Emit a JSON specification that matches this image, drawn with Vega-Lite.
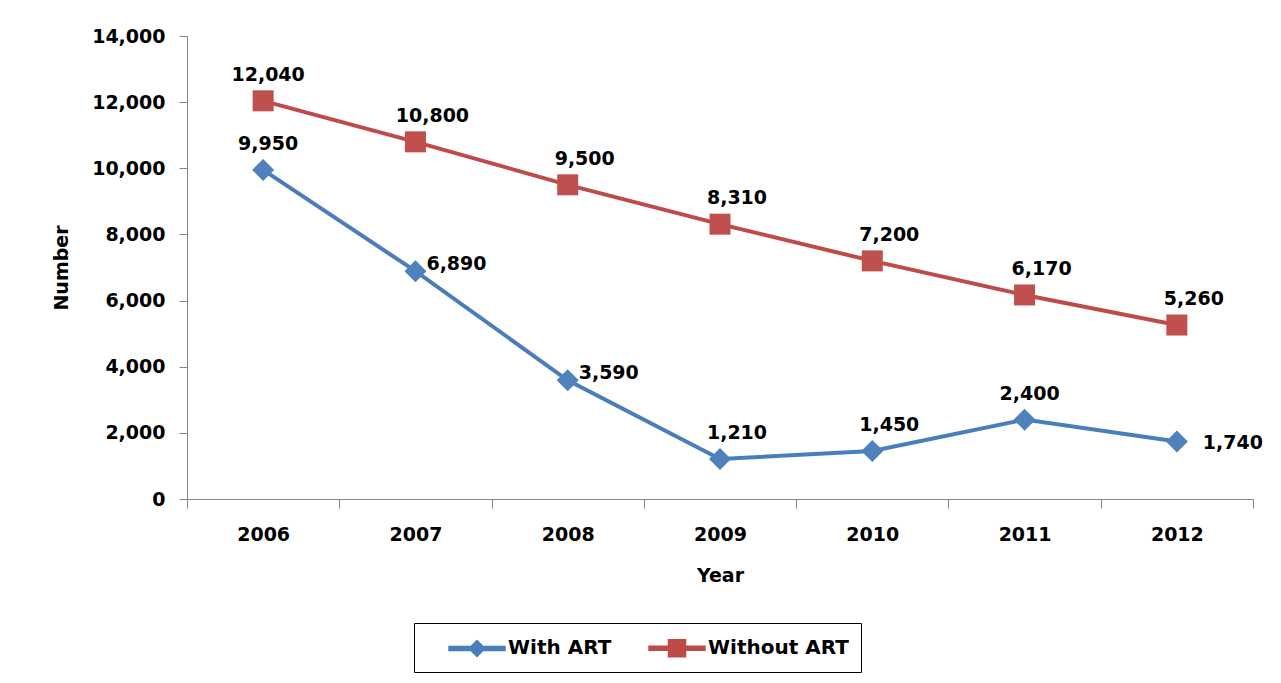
{
  "$schema": "https://vega.github.io/schema/vega-lite/v6.json",
  "width": 1066,
  "height": 463,
  "autosize": {"type": "none"},
  "padding": {"left": 187, "top": 36, "right": 28, "bottom": 184},
  "background": "white",
  "config": {
    "view": {"stroke": null},
    "font": "DejaVu Sans",
    "axis": {"grid": false, "domainColor": "#868686", "tickColor": "#868686", "labelColor": "#000", "titleColor": "#000", "labelFont": "DejaVu Sans", "titleFont": "DejaVu Sans", "labelFontWeight": "bold", "titleFontWeight": "bold", "labelFontSize": 19, "titleFontSize": 19}
  },
  "data": {
    "values": [
      {"year": 2006, "series": "With ART", "value": 9950},
      {"year": 2007, "series": "With ART", "value": 6890},
      {"year": 2008, "series": "With ART", "value": 3590},
      {"year": 2009, "series": "With ART", "value": 1210},
      {"year": 2010, "series": "With ART", "value": 1450},
      {"year": 2011, "series": "With ART", "value": 2400},
      {"year": 2012, "series": "With ART", "value": 1740},
      {"year": 2006, "series": "Without ART", "value": 12040},
      {"year": 2007, "series": "Without ART", "value": 10800},
      {"year": 2008, "series": "Without ART", "value": 9500},
      {"year": 2009, "series": "Without ART", "value": 8310},
      {"year": 2010, "series": "Without ART", "value": 7200},
      {"year": 2011, "series": "Without ART", "value": 6170},
      {"year": 2012, "series": "Without ART", "value": 5260}
    ]
  },
  "encoding": {
    "x": {
      "field": "year", "type": "ordinal",
      "scale": {"type": "band", "paddingInner": 0, "paddingOuter": 0},
      "axis": {
        "title": "Year",
        "labelAngle": 0,
        "tickBand": "extent",
        "tickSize": 9,
        "labelPadding": 17,
        "titlePadding": 22
      }
    },
    "y": {
      "field": "value", "type": "quantitative",
      "scale": {"domain": [0, 14000], "nice": false},
      "axis": {
        "title": "Number",
        "values": [0, 2000, 4000, 6000, 8000, 10000, 12000, 14000],
        "format": ",.0f",
        "tickSize": 8,
        "labelPadding": 14,
        "titlePadding": 20
      }
    }
  },
  "layer": [
    {
      "mark": {"type": "line", "strokeWidth": 4},
      "encoding": {
        "color": {
          "field": "series", "type": "nominal",
          "scale": {"domain": ["With ART", "Without ART"], "range": ["#4A7EBB", "#BE4B48"]},
          "legend": {
            "title": null,
            "orient": "none",
            "legendX": 227,
            "legendY": 587,
            "direction": "horizontal",
            "strokeColor": "#000",
            "padding": 12,
            "columnPadding": 14,
            "symbolSize": 576,
            "symbolOffset": 38,
            "labelOffset": 18,
            "labelFont": "DejaVu Sans",
            "labelFontSize": 20,
            "labelFontWeight": "bold",
            "labelColor": "#000",
            "encode": {
              "symbols": {
                "update": {
                  "shape": {"signal": "datum.value == 'With ART' ? 'M-2.33,-0.17L-0.5,-0.17L0,-0.67L0.5,-0.17L2.33,-0.17L2.33,0.17L0.5,0.17L0,0.67L-0.5,0.17L-2.33,0.17Z' : 'M-2.33,-0.17L-0.71,-0.17L-0.71,-0.71L0.71,-0.71L0.71,-0.17L2.33,-0.17L2.33,0.17L0.71,0.17L0.71,0.71L-0.71,0.71L-0.71,0.17L-2.33,0.17Z'"},
                  "fill": {"signal": "datum.value == 'With ART' ? '#4A7EBB' : '#BE4B48'"},
                  "stroke": {"value": "transparent"}
                }
              }
            }
          }
        }
      }
    },
    {
      "transform": [{"filter": "datum.series == 'With ART'"}],
      "mark": {"type": "point", "filled": true, "shape": "diamond", "size": 484, "color": "#4F81BD"},
      "encoding": {"opacity": {"value": 1}}
    },
    {
      "transform": [{"filter": "datum.series == 'Without ART'"}],
      "mark": {"type": "point", "filled": true, "shape": "square", "size": 441, "color": "#C0504D"},
      "encoding": {"opacity": {"value": 1}}
    },
    {
      "transform": [{"filter": "datum.year == 2006 || (datum.series == 'With ART' && datum.year == 2011)"}],
      "mark": {"type": "text", "dx": 5, "dy": -26, "align": "center", "baseline": "middle", "fontSize": 19, "fontWeight": "bold", "font": "DejaVu Sans", "color": "#000"},
      "encoding": {"text": {"field": "value", "type": "quantitative", "format": ","}}
    },
    {
      "transform": [{"filter": "(datum.series == 'Without ART' && datum.year > 2006) || (datum.series == 'With ART' && (datum.year == 2009 || datum.year == 2010))"}],
      "mark": {"type": "text", "dx": 17, "dy": -26, "align": "center", "baseline": "middle", "fontSize": 19, "fontWeight": "bold", "font": "DejaVu Sans", "color": "#000"},
      "encoding": {"text": {"field": "value", "type": "quantitative", "format": ","}}
    },
    {
      "transform": [{"filter": "datum.series == 'With ART' && (datum.year == 2007 || datum.year == 2008)"}],
      "mark": {"type": "text", "dx": 11, "dy": -7, "align": "left", "baseline": "middle", "fontSize": 19, "fontWeight": "bold", "font": "DejaVu Sans", "color": "#000"},
      "encoding": {"text": {"field": "value", "type": "quantitative", "format": ","}}
    },
    {
      "transform": [{"filter": "datum.series == 'With ART' && datum.year == 2012"}],
      "mark": {"type": "text", "dx": 26, "dy": 2, "align": "left", "baseline": "middle", "fontSize": 19, "fontWeight": "bold", "font": "DejaVu Sans", "color": "#000"},
      "encoding": {"text": {"field": "value", "type": "quantitative", "format": ","}}
    }
  ]
}
